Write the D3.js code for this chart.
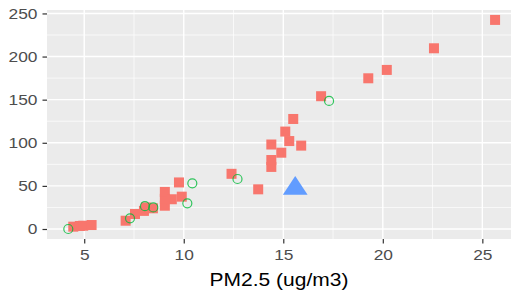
<!DOCTYPE html>
<html>
<head>
<meta charset="utf-8">
<script src="https://cdn.jsdelivr.net/npm/d3@7"></script>
<style>
  body { margin: 0; background: #fff; }
  text { font-family: "Liberation Sans", Arial, sans-serif; }
</style>
</head>
<body>
<svg id="chart"></svg>
<script>
// PM2.5 vs y values, three groups
const redX = [4.45, 4.78, 4.95, 5.37, 7.08, 7.55, 8.0, 8.1, 8.45, 9.05, 9.05, 9.05, 9.4, 9.76, 9.9,
              12.4, 13.74, 14.4, 14.4, 14.4, 14.9, 15.1, 15.3, 15.5, 15.9, 16.9, 19.27, 20.2, 22.57, 25.64];
const redY = [2.7, 3.5, 3.8, 4.6, 9.6, 17.4, 21, 25, 24, 27, 35, 43, 34.5, 54, 37.5,
              64, 46, 72, 80, 98, 88.5, 113, 102, 127.6, 96.7, 154, 174.8, 184.5, 209.6, 242.5];
const greenX = [4.2, 7.3, 8.05, 8.47, 10.18, 10.43, 12.7, 17.3];
const greenY = [0, 12.4, 26.5, 25, 29.8, 53, 58, 148.5];
const blueX = [15.6];
const blueY = [47];

const xTicks = [5, 10, 15, 20, 25];
const yTicks = [0, 50, 100, 150, 200, 250];
const xMinor = [7.5, 12.5, 17.5, 22.5];
const yMinor = [25, 75, 125, 175, 225];

const width = 513, height = 295;
const margin = { top: 10, right: 2, bottom: 56, left: 47 };
const pw = width - margin.left - margin.right;
const ph = height - margin.top - margin.bottom;
const stretch = 1.12; // labels look slightly wide in the original

const svg = d3.select("#chart").attr("width", width).attr("height", height);
const g = svg.append("g").attr("transform", `translate(${margin.left},${margin.top})`);

const x = d3.scaleLinear().domain([3.13, 26.44]).range([0, pw]);
const y = d3.scaleLinear().domain([-11.6, 254]).range([ph, 0]);

// panel
g.append("rect").attr("width", pw).attr("height", ph).attr("fill", "#EBEBEB");

// minor grid
g.selectAll(".xminor").data(xMinor).enter().append("line")
    .attr("x1", d => x(d)).attr("x2", d => x(d)).attr("y1", 0).attr("y2", ph)
    .attr("stroke", "#fff").attr("stroke-width", 0.7);
g.selectAll(".yminor").data(yMinor).enter().append("line")
    .attr("y1", d => y(d)).attr("y2", d => y(d)).attr("x1", 0).attr("x2", pw)
    .attr("stroke", "#fff").attr("stroke-width", 0.7);

// major grid
g.selectAll(".xmajor").data(xTicks).enter().append("line")
    .attr("x1", d => x(d)).attr("x2", d => x(d)).attr("y1", 0).attr("y2", ph)
    .attr("stroke", "#fff").attr("stroke-width", 1.4);
g.selectAll(".ymajor").data(yTicks).enter().append("line")
    .attr("y1", d => y(d)).attr("y2", d => y(d)).attr("x1", 0).attr("x2", pw)
    .attr("stroke", "#fff").attr("stroke-width", 1.4);

// axes
const xAxis = g.append("g").attr("transform", `translate(0,${ph})`)
    .call(d3.axisBottom(x).tickValues(xTicks).tickSize(4.5).tickPadding(5));
const yAxis = g.append("g")
    .call(d3.axisLeft(y).tickValues(yTicks).tickSize(4.5).tickPadding(5));
[xAxis, yAxis].forEach(a => {
    a.select(".domain").remove();
    a.selectAll(".tick line").attr("stroke", "#333").attr("stroke-width", 1.2);
    a.selectAll(".tick text").attr("fill", "#4D4D4D")
        .style("font-size", "15.5px").style("font-family", "Liberation Sans, Arial, sans-serif");
});
yAxis.selectAll(".tick text").each(function() {
    const t = d3.select(this);
    const tx = +t.attr("x");
    t.attr("x", 0).attr("transform", `translate(${tx},0) scale(${stretch},1)`);
});
xAxis.selectAll(".tick text").attr("transform", `scale(${stretch},1)`);

// points
const red = redX.map((d, i) => ({ x: d, y: redY[i] }));
const green = greenX.map((d, i) => ({ x: d, y: greenY[i] }));
const blue = blueX.map((d, i) => ({ x: d, y: blueY[i] }));

g.selectAll(".red").data(red).enter().append("rect")
    .attr("x", d => x(d.x) - 5).attr("y", d => y(d.y) - 5)
    .attr("width", 10).attr("height", 10)
    .attr("fill", "#F8766D");

g.selectAll(".green").data(green).enter().append("circle")
    .attr("cx", d => x(d.x)).attr("cy", d => y(d.y)).attr("r", 4.5)
    .attr("fill", "none").attr("stroke", "#00BA38").attr("stroke-opacity", 0.8)
    .attr("stroke-width", 1.2);

const tri = d3.symbol().type(d3.symbolTriangle).size(200);
g.selectAll(".blue").data(blue).enter().append("path")
    .attr("d", tri)
    .attr("transform", d => `translate(${x(d.x)},${y(d.y)}) scale(1.15,1)`)
    .attr("fill", "#619CFF");

// x title
svg.append("text")
    .attr("transform", `translate(${margin.left + pw / 2},286) scale(1.2,1)`)
    .attr("text-anchor", "middle")
    .style("font-size", "17.5px").attr("fill", "#000")
    .text("PM2.5 (ug/m3)");
</script>
</body>
</html>
